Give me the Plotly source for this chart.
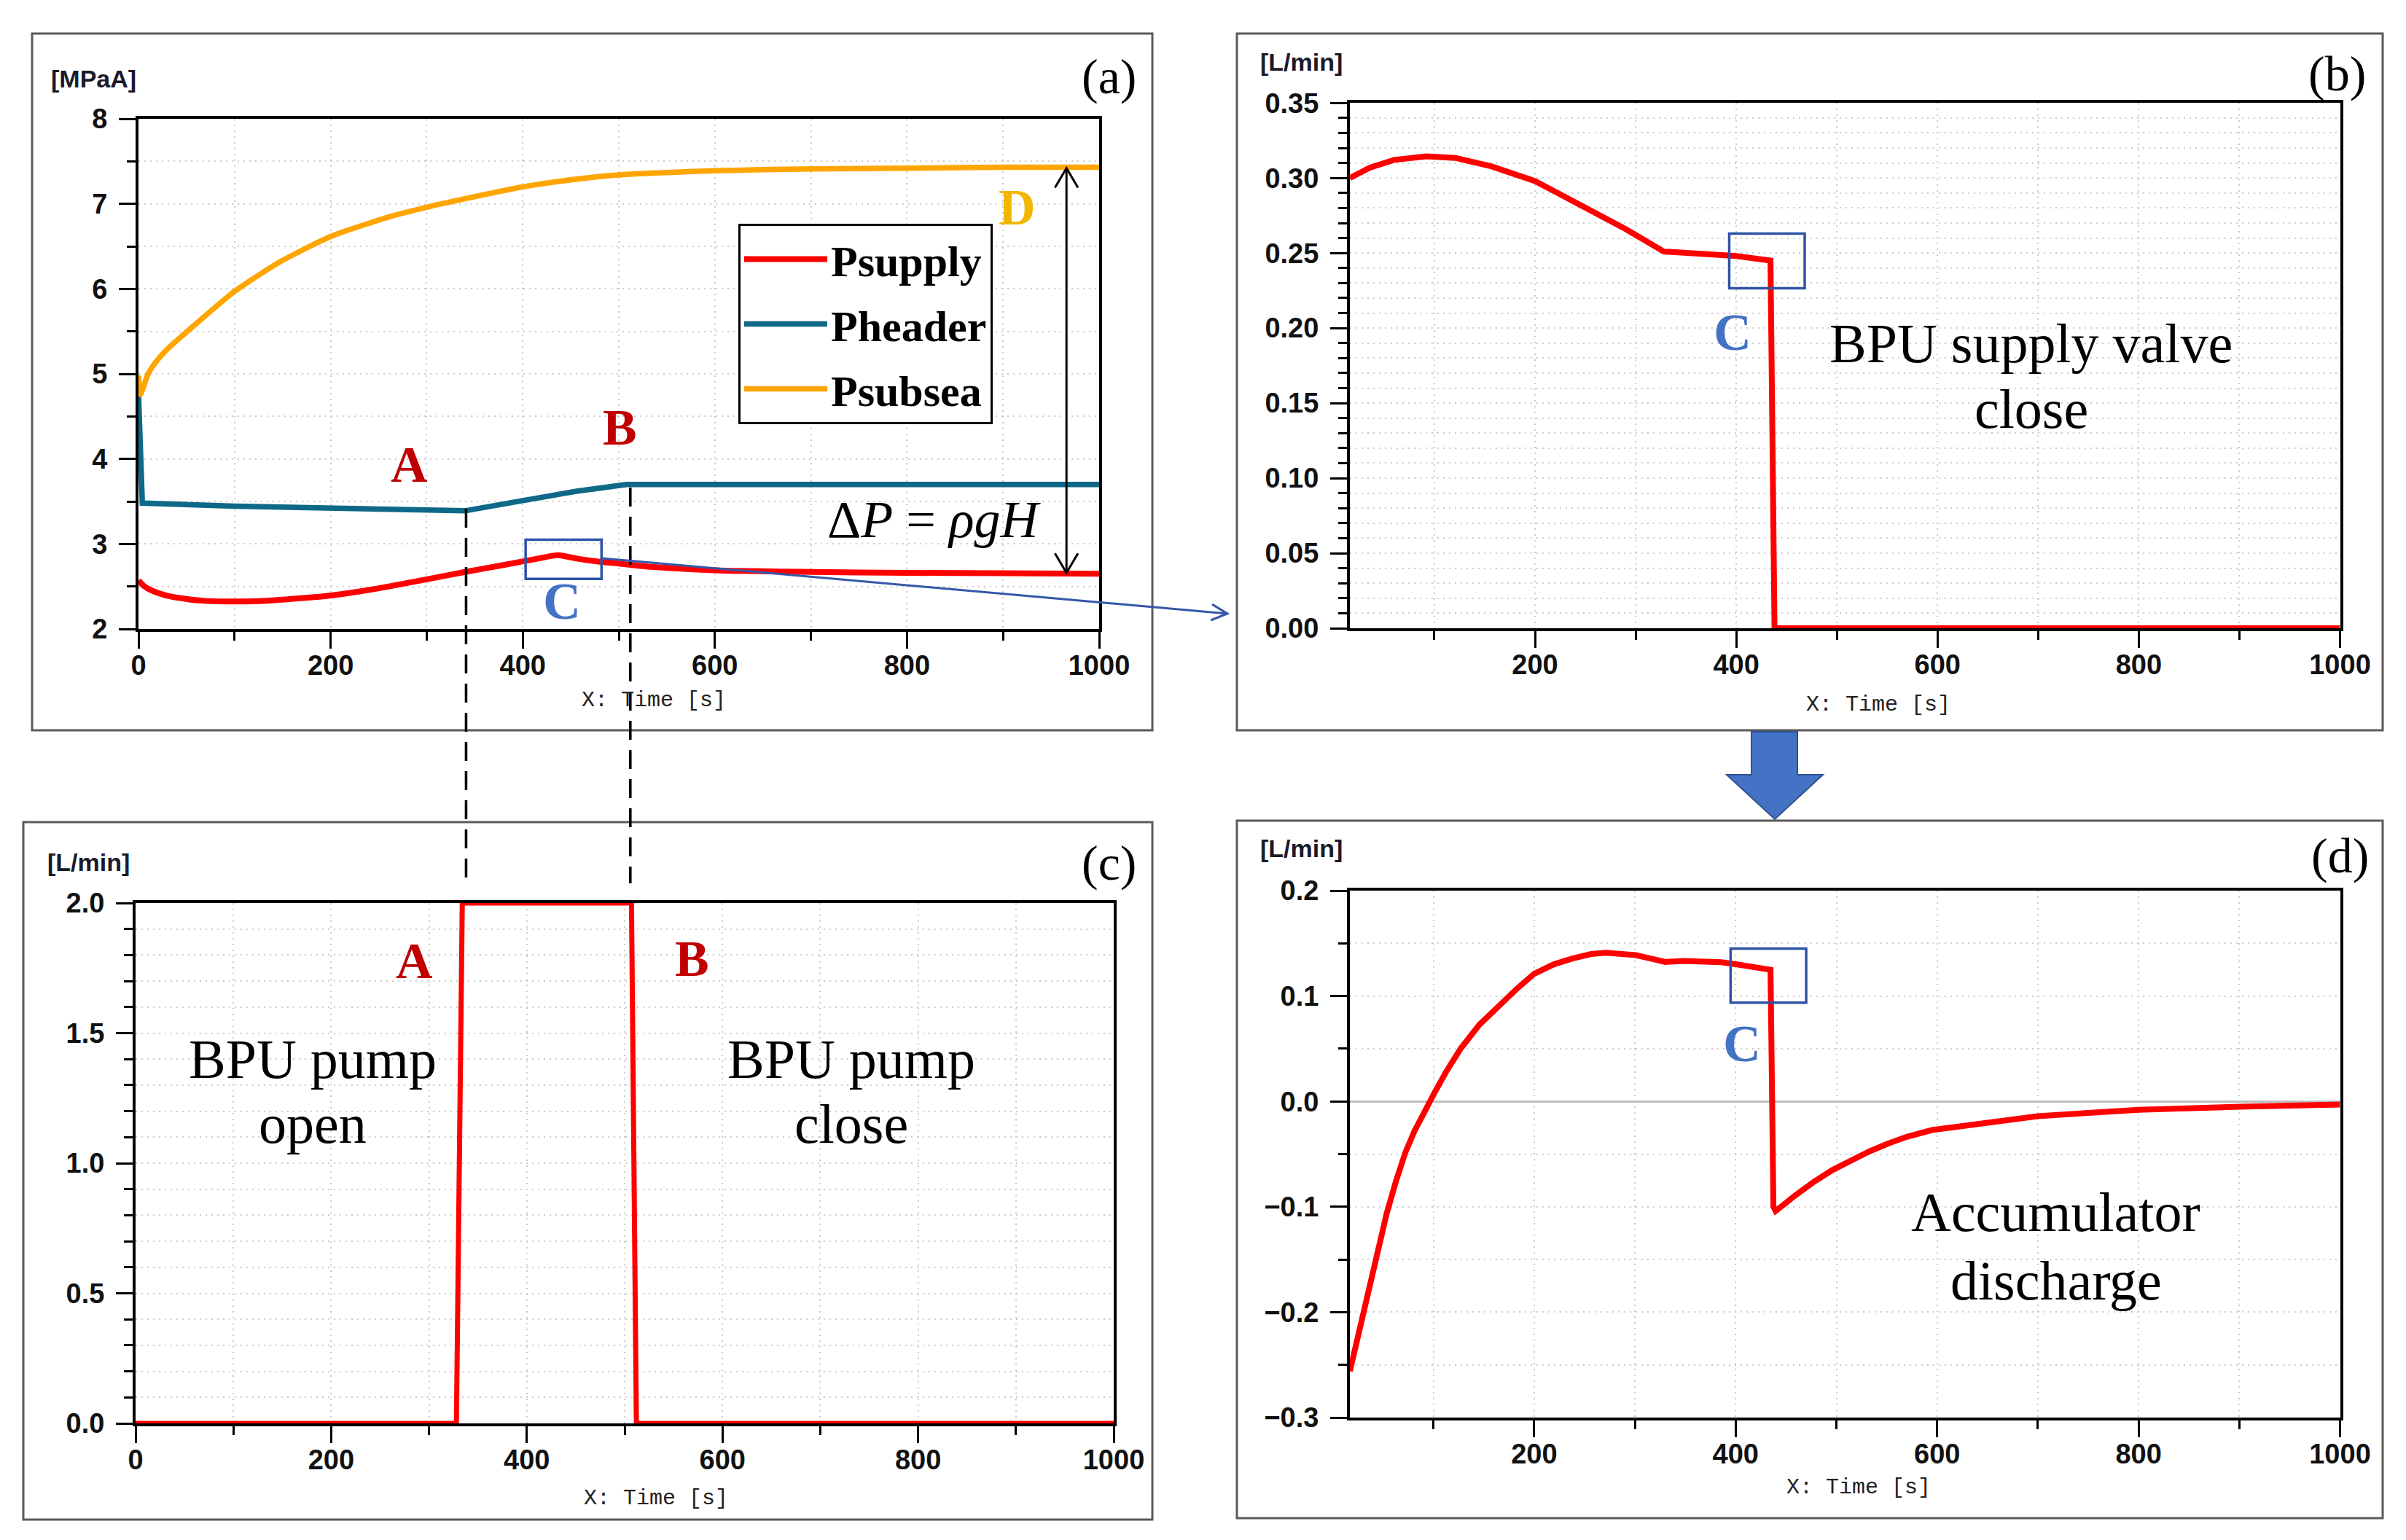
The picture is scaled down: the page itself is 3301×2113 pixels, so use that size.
import plotly.graph_objects as go

W, H = 3301, 2113

# ---------------- (a) pressures [MPaA]
supply_t = [0, 5.8, 13.6, 29, 48.5, 68, 100, 126, 153, 201, 243, 300, 340, 379, 417, 437, 456, 480, 500, 534, 600, 700, 800, 900, 1000]
supply_p = [2.57, 2.505, 2.453, 2.394, 2.355, 2.331, 2.323, 2.327, 2.347, 2.394, 2.465, 2.584, 2.671, 2.75, 2.83, 2.868,
            2.828, 2.79, 2.77, 2.73, 2.69, 2.67, 2.66, 2.655, 2.65]

header_t = [0, 4, 100, 200, 300, 340, 400, 456, 508, 600, 1000]
header_p = [4.76, 3.48, 3.445, 3.42, 3.395, 3.39, 3.51, 3.62, 3.70, 3.70, 3.70]

subsea_t = [0, 2, 10, 18, 29, 60, 100, 146, 201, 262, 300, 340, 400, 456, 500, 599, 700, 800, 900, 1000]
subsea_p = [4.98, 4.76, 5.00, 5.14, 5.28, 5.59, 5.97, 6.31, 6.62, 6.85, 6.96, 7.06, 7.20, 7.29, 7.34, 7.39, 7.41, 7.42, 7.43, 7.43]

# ---------------- (b) BPU supply valve flow [L/min]
valve_t = [16, 36, 60, 92, 121, 157, 200, 254, 290, 328, 400, 434, 438, 1000]
valve_q = [0.300, 0.3069, 0.3121, 0.3145, 0.3134, 0.3077, 0.298, 0.2794, 0.266, 0.251, 0.248, 0.245, 0.0, 0.0]

# ---------------- (c) BPU pump flow [L/min]
pump_t = [0, 328, 334, 507, 512, 1000]
pump_q = [0.0, 0.0, 2.0, 2.0, 0.0, 0.0]

# ---------------- (d) accumulator flow [L/min]
acc_t = [17, 27.6, 35, 44.2, 53.4, 62.6, 71.9, 81.1, 90.4, 101.4, 112.5, 127.3, 145.7, 164.2, 182.6, 200,
         219.5, 238, 256.4, 271.2, 286, 300.7, 315.5, 330.2, 348.7, 367.1, 385.6, 400.3, 418.8, 434.6,
         437.5, 439.7, 459.2, 477.6, 496.1, 514.5, 532.9, 551.4, 569.8, 594.9, 640, 700, 750, 800, 900, 1000]
acc_q = [-0.256, -0.2128, -0.1775, -0.1405, -0.1069, -0.0763, -0.049, -0.0282, -0.0105, 0.0088, 0.028, 0.0505,
         0.0729, 0.0906, 0.1067, 0.1211, 0.1301, 0.1356, 0.1398, 0.141, 0.1404, 0.1388, 0.1356, 0.1323, 0.1333,
         0.1333, 0.132, 0.1301, 0.1275, 0.1249, -0.100, -0.104, -0.0892, -0.0763, -0.0651, -0.0555, -0.0474,
         -0.040, -0.0336, -0.0272, -0.021, -0.014, -0.011, -0.008, -0.005, -0.003]

RED = "#FF0000"
TEAL = "#0E6888"
ORANGE = "#FFA500"
DARKRED = "#C00000"
CBLUE = "#4472C4"
GRID = "#CCCCCC"
SANS = "Liberation Sans, Arial, sans-serif"
SERIF = "Liberation Serif, Times New Roman, serif"
MONO = "Liberation Mono, DejaVu Sans Mono, monospace"


def px(x):
    return x / W


def py(y):
    return 1 - y / H


def axis(domain, rng, dtick, minor_dtick, anchor, fmt=None, standoff=8):
    return dict(
        domain=domain, range=rng, anchor=anchor, tick0=0, dtick=dtick, tickformat=fmt,
        automargin=False,
        showline=True, linecolor="black", linewidth=4, mirror=True,
        ticks="outside", ticklen=23, tickwidth=3, tickcolor="black", ticklabelstandoff=standoff,
        tickfont=dict(family=SANS, size=38, color="#111111", weight="bold"),
        showgrid=True, gridcolor=GRID, gridwidth=2, griddash="2px,6px",
        zeroline=False, layer="below traces", fixedrange=True,
        minor=dict(tick0=0, dtick=minor_dtick, ticks="outside", ticklen=12, tickwidth=3, tickcolor="black",
                   showgrid=True, gridcolor=GRID, gridwidth=2, griddash="2px,6px"),
    )


fig = go.Figure()

fig.add_trace(go.Scatter(x=supply_t, y=supply_p, name="Psupply", mode="lines", legendgroup="s",
                         line=dict(color=RED, width=8, shape="spline", smoothing=0.6), xaxis="x", yaxis="y"))
fig.add_trace(go.Scatter(x=header_t, y=header_p, name="Pheader", mode="lines", legendgroup="h",
                         line=dict(color=TEAL, width=7.5), xaxis="x", yaxis="y"))
fig.add_trace(go.Scatter(x=subsea_t, y=subsea_p, name="Psubsea", mode="lines", legendgroup="u",
                         line=dict(color=ORANGE, width=7.5, shape="spline", smoothing=0.6), xaxis="x", yaxis="y"))
fig.add_trace(go.Scatter(x=valve_t, y=valve_q, mode="lines", showlegend=False,
                         line=dict(color=RED, width=8), xaxis="x2", yaxis="y2"))
fig.add_trace(go.Scatter(x=pump_t, y=pump_q, mode="lines", showlegend=False,
                         line=dict(color=RED, width=7), xaxis="x3", yaxis="y3"))
fig.add_trace(go.Scatter(x=acc_t, y=acc_q, mode="lines", showlegend=False,
                         line=dict(color=RED, width=8), xaxis="x4", yaxis="y4"))

xa = [px(190), px(1508)]
xb = [px(1852), px(3210.5)]
xc = [px(186), px(1528)]
ya = [py(863), py(163)]
yb = [py(862), py(141.3)]
yc = [py(1953), py(1239)]
yd = [py(1945), py(1222)]

yaxis4 = axis(yd, [-0.3, 0.2], 0.1, 0.05, "x4", ".1f")
yaxis4.update(zeroline=True, zerolinecolor="#BDBDBD", zerolinewidth=3)

fig.update_layout(
    xaxis=axis(xa, [0, 1000], 200, 100, "y", standoff=-10),
    yaxis=axis(ya, [2, 8], 1, 0.5, "x"),
    xaxis2=axis(xb, [16, 1000], 200, 100, "y2", standoff=-10),
    yaxis2=axis(yb, [0, 0.35], 0.05, 0.01, "x2", ".2f"),
    xaxis3=axis(xc, [0, 1000], 200, 100, "y3", standoff=-10),
    yaxis3=axis(yc, [0, 2], 0.5, 0.1, "x3", ".1f"),
    xaxis4=axis(xb, [17, 1000], 200, 100, "y4", standoff=-10),
    yaxis4=yaxis4,
)

shapes = []
# panel frames
for x0, y0, x1, y1 in [(44, 46, 1581, 1002), (1697, 46, 3269, 1002),
                       (32, 1128, 1581, 2085), (1697, 1126, 3269, 2083)]:
    shapes.append(dict(type="rect", xref="paper", yref="paper", x0=px(x0), x1=px(x1), y0=py(y1), y1=py(y0),
                       line=dict(color="#5A5A5A", width=3)))
# "C" boxes
for xr, yr, x0, x1, y0, y1 in [("x", "y", 403, 482, 2.59, 3.05), ("x2", "y2", 393, 468, 0.2266, 0.263),
                               ("x4", "y4", 395, 470, 0.0936, 0.145)]:
    shapes.append(dict(type="rect", xref=xr, yref=yr, x0=x0, x1=x1, y0=y0, y1=y1,
                       line=dict(color="#2E54A6", width=3.5)))
# dashed guides from (a) to (c)
for xv, top, bot in [(341, 698, 1208), (512, 669, 1212)]:
    shapes.append(dict(type="line", xref="x", yref="paper", x0=xv, x1=xv, y0=py(top), y1=py(bot),
                       line=dict(color="black", width=3.5, dash="26px,14px")))
# dP double arrow in (a): shaft plus open heads
shapes.append(dict(type="line", xref="x", yref="y", x0=966, x1=966, y0=2.66, y1=7.42,
                   line=dict(color="black", width=3)))
shapes.append(dict(type="path", xref="x", yref="y", path="M 954,7.19 L 966,7.42 L 978,7.19",
                   line=dict(color="black", width=3)))
shapes.append(dict(type="path", xref="x", yref="y", path="M 954,2.89 L 966,2.66 L 978,2.89",
                   line=dict(color="black", width=3)))
# connector from (a) box C to (b), open arrow head
shapes.append(dict(type="line", xref="paper", yref="paper", x0=px(826), y0=py(766), x1=px(1684), y1=py(842),
                   line=dict(color="#3558A8", width=3)))
head = [(1661.2, 851.0), (1684, 842), (1663.0, 829.1)]
shapes.append(dict(type="path", xref="paper", yref="paper",
                   path="M " + " L ".join(f"{px(a):.5f},{py(b):.5f}" for a, b in head),
                   line=dict(color="#3558A8", width=3)))
# big down arrow between (b) and (d)
pts = [(2403, 1004), (2466, 1004), (2466, 1063), (2501, 1063), (2435, 1124), (2369, 1063), (2403, 1063)]
path = "M " + " L ".join(f"{px(a):.5f},{py(b):.5f}" for a, b in pts) + " Z"
shapes.append(dict(type="path", xref="paper", yref="paper", path=path,
                   fillcolor="#4472C4", line=dict(color="#2F528F", width=2)))

annotations = []


def note(text, x, y, xref="paper", yref="paper", size=37, color="black", family=SERIF, weight="normal"):
    annotations.append(dict(text=text, x=x, y=y, xref=xref, yref=yref, showarrow=False,
                            xanchor="center", yanchor="middle",
                            font=dict(family=family, size=size, color=color, weight=weight)))


# panel letters
for t, x, y in [("(a)", 1521, 105), ("(b)", 3206, 101), ("(c)", 1521, 1184), ("(d)", 3210, 1174)]:
    note(t, px(x), py(y), size=68)
# unit labels
for t, x, y in [("[MPaA]", 128, 108), ("[L/min]", 1785, 85), ("[L/min]", 121, 1183), ("[L/min]", 1785, 1164)]:
    note(t, px(x), py(y), size=34, color="#1A1A2A", family=SANS, weight="bold")
# x axis titles
for x, y in [(897, 961), (2577, 967), (900, 2056), (2550, 2041)]:
    note("X: Time [s]", px(x), py(y), size=30, color="#222222", family=MONO)

# panel (a)
note("A", 282, 3.93, "x", "y", 70, DARKRED, weight="bold")
note("B", 501, 4.37, "x", "y", 70, DARKRED, weight="bold")
note("C", 441, 2.33, "x", "y", 72, CBLUE, weight="bold")
note("D", 915, 6.96, "x", "y", 70, "#F2B600", weight="bold")
note("Δ<i>P</i> = <i>ρgH</i>", 828, 3.29, "x", "y", 72)

# panel (b)
note("C", 396, 0.197, "x2", "y2", 72, CBLUE, weight="bold")
note("BPU supply valve", 693, 0.190, "x2", "y2", 76)
note("close", 693, 0.146, "x2", "y2", 76)

# panel (c)
note("A", 285, 1.777, "x3", "y3", 70, DARKRED, weight="bold")
note("B", 569, 1.787, "x3", "y3", 70, DARKRED, weight="bold")
note("BPU pump", 181, 1.40, "x3", "y3", 76)
note("open", 181, 1.15, "x3", "y3", 76)
note("BPU pump", 732, 1.40, "x3", "y3", 76)
note("close", 732, 1.15, "x3", "y3", 76)

# panel (d)
note("C", 406, 0.0547, "x4", "y4", 72, CBLUE, weight="bold")
note("Accumulator", 718, -0.105, "x4", "y4", 76)
note("discharge", 718, -0.170, "x4", "y4", 76)

fig.update_layout(
    width=W, height=H,
    margin=dict(l=0, r=0, t=0, b=0, pad=0, autoexpand=False),
    paper_bgcolor="white", plot_bgcolor="white",
    shapes=shapes, annotations=annotations,
    showlegend=True,
    legend=dict(x=px(1013), y=py(307), xanchor="left", yanchor="top",
                bordercolor="black", borderwidth=3, bgcolor="white",
                font=dict(family=SERIF, size=60, color="black", weight="bold"),
                itemwidth=114, tracegroupgap=8),
)

# drop the page's default body margin so the figure sits flush in the window
fig.write_html("out.html", config={"displayModeBar": False},
               post_script="document.body.style.margin='0';")
